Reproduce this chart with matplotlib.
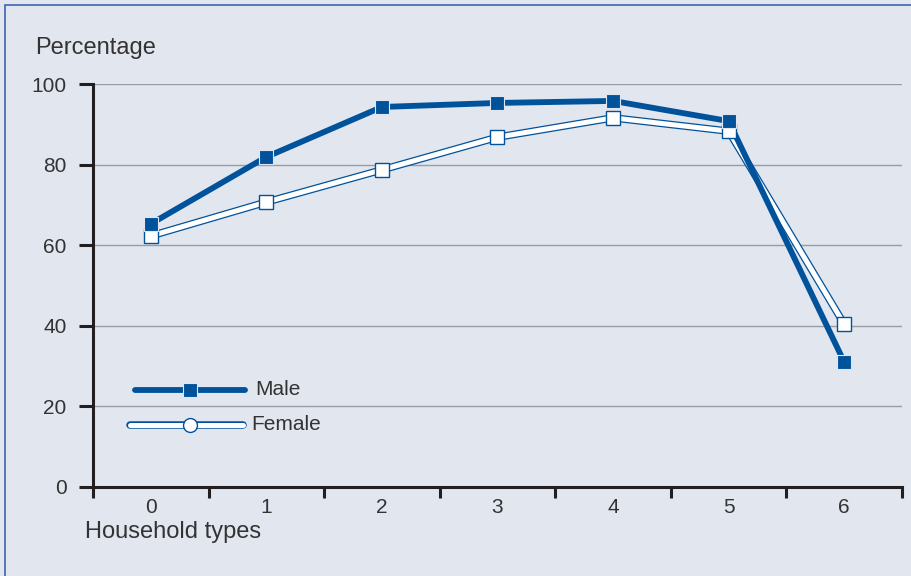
import matplotlib
matplotlib.use("Agg")
import matplotlib.pyplot as plt
from matplotlib.patches import Rectangle

# data
household_types = [0, 1, 2, 3, 4, 5, 6]
male = [65.3, 81.9, 94.3, 95.3, 95.8, 90.8, 31.0]
female = [62.3, 70.7, 78.7, 86.8, 91.6, 88.3, 40.4]
y_ticks = [0, 20, 40, 60, 80, 100]

bg = '#e1e6ef'
blue = '#00529b'
txt = '#333333'

plt.rcParams['font.family'] = ['Liberation Sans', 'DejaVu Sans']

fig = plt.figure(figsize=(9.12, 5.76), dpi=100)
fig.patch.set_facecolor(bg)
# thin blue frame round the panel (left and top edges are visible)
fig.patches.append(Rectangle((5 / 912, -0.1), 1.2, 1.1 - 5 / 576, transform=fig.transFigure,
                             fill=False, edgecolor='#3d64b0', linewidth=1.2))

ax = fig.add_axes([93 / 912, 89 / 576, 809 / 912, 403 / 576])
ax.set_facecolor(bg)

# gridlines
for v in y_ticks[1:]:
    ax.axhline(v, color='#9a9ca2', linewidth=1.0, zorder=1)

# male line
ax.plot(household_types, male, color=blue, linewidth=4.2, zorder=3)
ax.plot(household_types, male, linestyle='none', marker='s', markersize=10,
        markerfacecolor=blue, markeredgecolor='#dfe6f2', markeredgewidth=0.8, zorder=5)

# female line: blue outline, white core
ax.plot(household_types, female, color=blue, linewidth=5.4, zorder=2)
ax.plot(household_types, female, color='white', linewidth=3.6, zorder=2.5)
ax.plot(household_types, female, linestyle='none', marker='s', markersize=10,
        markerfacecolor='white', markeredgecolor=blue, markeredgewidth=1.0, zorder=4)

# legend drawn by hand
ax.plot([0.052, 0.188], [0.241, 0.241], transform=ax.transAxes, color=blue,
        linewidth=4.2, solid_capstyle='round', zorder=6)
ax.plot([0.12], [0.241], transform=ax.transAxes, marker='s', markersize=10,
        markerfacecolor=blue, markeredgecolor='#dfe6f2', markeredgewidth=0.8, zorder=7)
ax.plot([0.046, 0.186], [0.154, 0.154], transform=ax.transAxes, color=blue,
        linewidth=5.4, solid_capstyle='round', zorder=6)
ax.plot([0.046, 0.186], [0.154, 0.154], transform=ax.transAxes, color='white',
        linewidth=3.6, solid_capstyle='round', zorder=6.5)
ax.plot([0.12], [0.154], transform=ax.transAxes, marker='o', markersize=10,
        markerfacecolor='white', markeredgecolor=blue, markeredgewidth=1.0, zorder=7)
ax.text(0.2, 0.241, 'Male', transform=ax.transAxes, va='center', ha='left',
        fontsize=15, color=txt)
ax.text(0.196, 0.154, 'Female', transform=ax.transAxes, va='center', ha='left',
        fontsize=15, color=txt)

ax.set_xlim(-0.5, 6.5)
ax.set_ylim(0, 100)
ax.set_yticks(y_ticks)
ax.set_xticks(household_types)
ax.set_xticks([x - 0.5 for x in household_types] + [6.5], minor=True)
ax.tick_params(axis='x', which='major', length=0, pad=8, labelsize=15, labelcolor=txt)
ax.tick_params(axis='x', which='minor', length=8, width=2.2, direction='out', color='#231f20')
ax.tick_params(axis='y', length=10, width=2.2, pad=9, labelsize=15, labelcolor=txt, color='#231f20')

for side in ['top', 'right']:
    ax.spines[side].set_visible(False)
for side in ['left', 'bottom']:
    ax.spines[side].set_linewidth(2.2)
    ax.spines[side].set_color('#231f20')

fig.text(35 / 912, 1 - 48 / 576, 'Percentage', fontsize=17, color=txt, va='center', ha='left')
fig.text(85 / 912, 1 - 532 / 576, 'Household types', fontsize=17, color=txt, va='center', ha='left')

fig.savefig('out.png', dpi=100, facecolor=bg)
